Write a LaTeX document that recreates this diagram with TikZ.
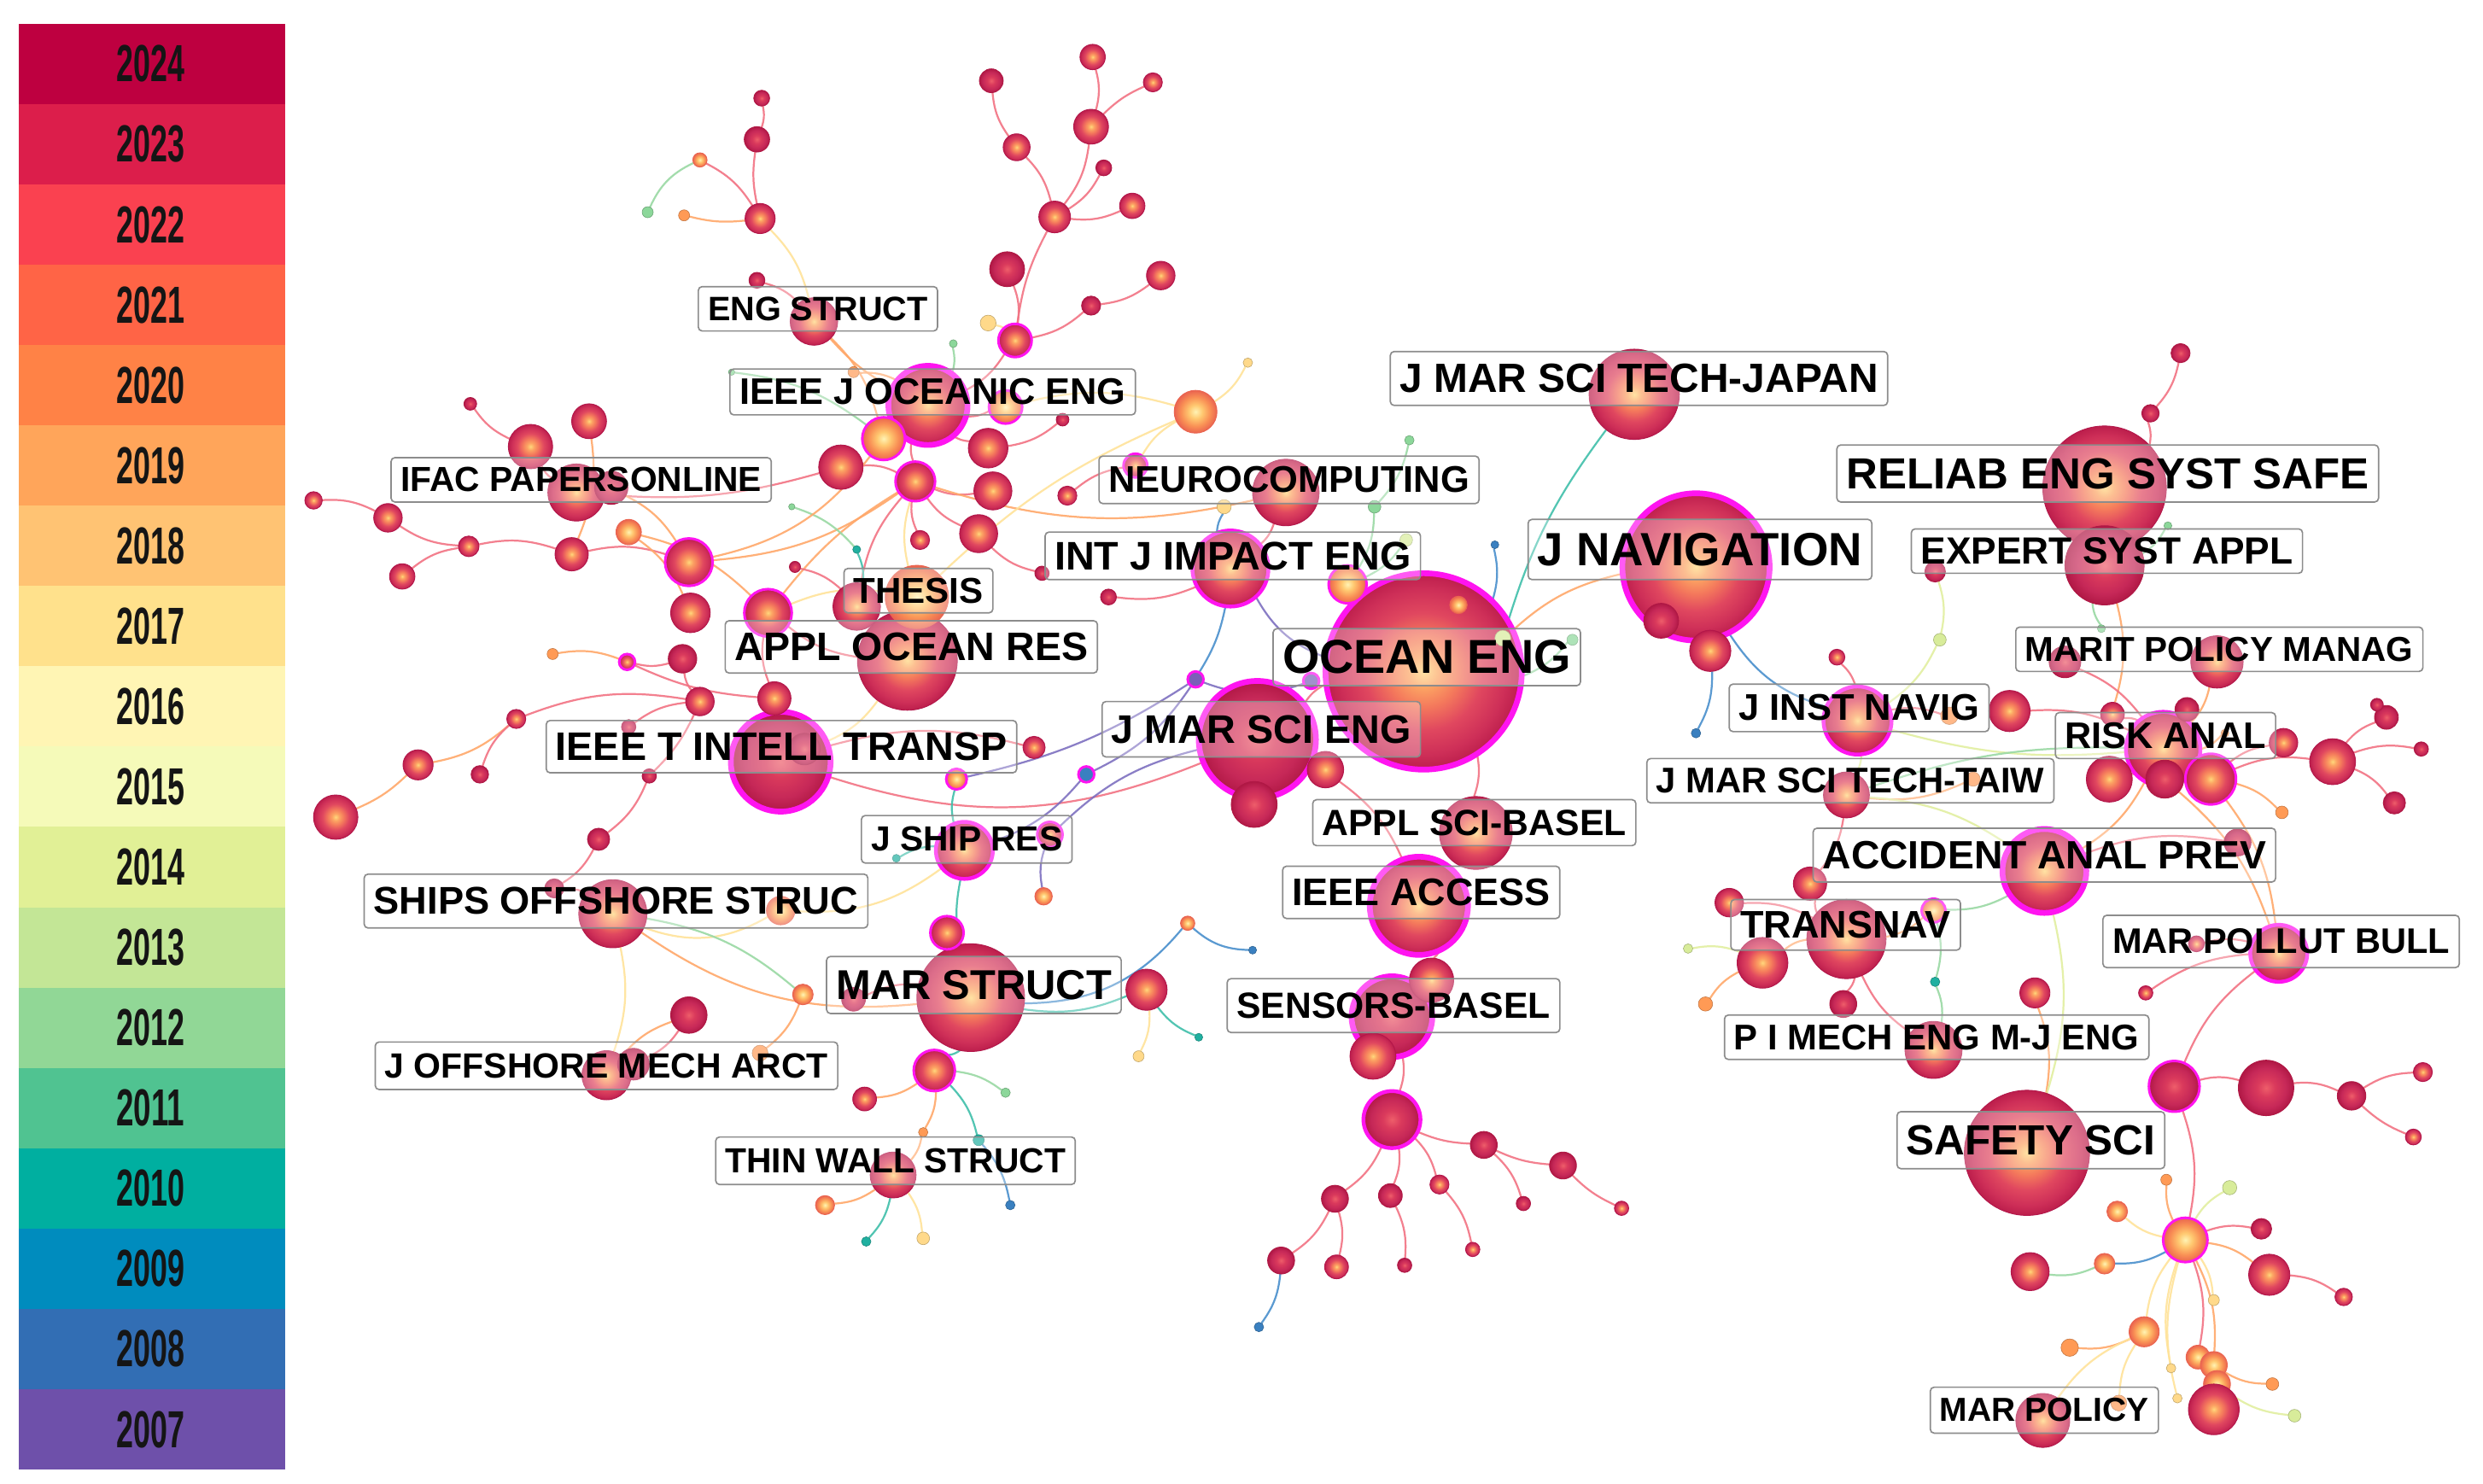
\documentclass[tikz,border=0pt]{standalone}
\usepackage{graphicx}
\usepackage{fontspec}
\setmainfont{Liberation Sans}
\usetikzlibrary{backgrounds}
% node ring colours
\definecolor{cY}{HTML}{FFD77C}\definecolor{cP}{HTML}{FCA463}\definecolor{cO}{HTML}{F4795C}\definecolor{cR}{HTML}{E0475F}
\definecolor{cC}{HTML}{CE2F58}\definecolor{cD}{HTML}{BC1E4C}\definecolor{cBd}{HTML}{B3174A}
\definecolor{dA}{HTML}{EE5E6A}\definecolor{dB}{HTML}{DA3A5C}\definecolor{dC}{HTML}{C62858}\definecolor{dD}{HTML}{B01845}
\definecolor{yA}{HTML}{FFF3B4}\definecolor{yB}{HTML}{FFC870}\definecolor{yC}{HTML}{F99055}\definecolor{yD}{HTML}{EA6450}
\definecolor{cMag}{HTML}{FF14F0}
\definecolor{cGr}{HTML}{8CD79A}\definecolor{cTe}{HTML}{20B0A0}\definecolor{cBl}{HTML}{3A80C0}
\definecolor{cOr}{HTML}{FF9A55}\definecolor{cYe}{HTML}{FFD98A}\definecolor{cYG}{HTML}{D8EC9A}\definecolor{cPu}{HTML}{7A60B8}
% edge colours
\definecolor{kRc}{HTML}{F27383}\definecolor{kOc}{HTML}{FFA86A}\definecolor{kYc}{HTML}{FFE39A}
\definecolor{kGc}{HTML}{9AD9A4}\definecolor{kTc}{HTML}{40BFAA}\definecolor{kBc}{HTML}{4A90CC}
\definecolor{kPc}{HTML}{7E70C0}\definecolor{kLc}{HTML}{E2EFA0}
\definecolor{cBox}{HTML}{8C8C8C}\definecolor{cTxt}{HTML}{151515}
% legend colours
\definecolor{Y2024}{RGB}{190,0,64}\definecolor{Y2023}{RGB}{220,30,75}\definecolor{Y2022}{RGB}{250,65,80}
\definecolor{Y2021}{RGB}{255,100,70}\definecolor{Y2020}{RGB}{255,130,70}\definecolor{Y2019}{RGB}{255,165,90}
\definecolor{Y2018}{RGB}{255,195,115}\definecolor{Y2017}{RGB}{255,225,140}\definecolor{Y2016}{RGB}{255,245,180}
\definecolor{Y2015}{RGB}{245,250,185}\definecolor{Y2014}{RGB}{225,240,150}\definecolor{Y2013}{RGB}{195,230,150}
\definecolor{Y2012}{RGB}{145,215,150}\definecolor{Y2011}{RGB}{80,195,145}\definecolor{Y2010}{RGB}{0,175,160}
\definecolor{Y2009}{RGB}{0,140,190}\definecolor{Y2008}{RGB}{50,110,180}\definecolor{Y2007}{RGB}{110,80,170}
\pgfdeclareradialshading{citeA}{\pgfpoint{0bp}{0bp}}{color(0bp)=(cY); color(4bp)=(cP); color(9bp)=(cO); color(15bp)=(cR); color(21bp)=(cC); color(25bp)=(cD); color(50bp)=(cD)}
\pgfdeclareradialshading{citeB}{\pgfpoint{0bp}{0bp}}{color(0bp)=(dA); color(8bp)=(dB); color(18bp)=(dC); color(25bp)=(dD); color(50bp)=(dD)}
\pgfdeclareradialshading{citeY}{\pgfpoint{0bp}{0bp}}{color(0bp)=(yA); color(8bp)=(yB); color(17bp)=(yC); color(25bp)=(yD); color(50bp)=(yD)}
\tikzset{
  sz/.style={circle,inner sep=0pt,outer sep=0pt,minimum size=#1*0.5mm},
  nA/.style={shade,shading=citeA,draw=cBd,line width=0.25mm},
  nB/.style={shade,shading=citeB,draw=dD,line width=0.25mm},
  nY/.style={shade,shading=citeY,draw=yD,line width=0.25mm},
  cdot/.style={fill=#1,draw=#1!75!black,line width=0.15mm},
  hub/.style={draw=cMag,line width=1.8mm},
  hubm/.style={draw=cMag,line width=1.2mm},
  hubs/.style={draw=cMag,line width=0.8mm},
  kbase/.style={line width=0.6mm,draw opacity=0.9},
  kR/.style={kbase,draw=kRc},kO/.style={kbase,draw=kOc},kY/.style={kbase,draw=kYc},
  kG/.style={kbase,draw=kGc},kT/.style={kbase,draw=kTc},kB/.style={kbase,draw=kBc},
  kP/.style={kbase,draw=kPc},kL/.style={kbase,draw=kLc},
  lab/.style={draw=cBox,line width=0.45mm,rounded corners=1.2mm,fill=white,fill opacity=0.3,
    text opacity=1,inner xsep=3mm,inner ysep=0pt,text=black,font=\bfseries},
}
\newcommand{\mynode}[4][nA]{\node[#1,sz=#4] (#2) at (#3) {};}
\newcommand{\myedge}[4][15]{\draw[#2] (#3) to[bend left=#1] (#4);}
\newcommand{\mylab}[5]{\node[lab,minimum height=#4*0.5mm] (#1) at (#2) {\resizebox{#3mm}{!}{#5}};}
\begin{document}
\begin{tikzpicture}[x=0.5mm,y=-0.5mm]
\useasboundingbox (0,0) rectangle (1568,937);
% ---------- legend
\foreach \yr [count=\i from 0] in {2024,2023,...,2007} {
  \fill[Y\yr] (12,{15+\i*50.72}) rectangle (180,{15+(\i+1)*50.72});
  \node[text=cTxt,inner sep=0pt] (leg\yr) at (95,{15+(\i+0.5)*50.72}) {\resizebox{21.5mm}{11.5mm}{\bfseries\yr}};
}
% ---------- big nodes
\mynode[nA,hub]{oe}{899,424}{124}
\mynode[nA,hub]{jnav}{1071,358}{93}
\mynode[nA]{reli}{1329,308}{78}
\mynode[nA]{safety}{1280,728}{79}
\mynode[nA]{jmstj}{1032,249}{57}
\mynode[nA]{aor}{573,417}{63}
\mynode[nB,hub]{ieit}{493,481}{63}
\mynode[nB,hub]{jmse}{794,467}{74}
\mynode[nA]{mars}{613,630}{68}
\mynode[nA,hub]{ieej}{586,256}{50}
\mynode[nA]{asci}{932,526}{46}
\mynode[nA,hub]{ieac}{896,572}{62}
\mynode[nB,hub]{sens}{879,642}{51}
\mynode[nA,hub]{acc}{1291,550}{53}
\mynode[nB]{expert}{1329,357}{50}
\mynode[nA,hubm]{risk}{1366,473}{47}
\mynode[nA,hubm]{jinst}{1173,455}{43}
\mynode[nA]{transnav}{1166,593}{50}
\mynode[nA,hubm]{impact}{777,359}{48}
\mynode[nA]{neuro}{812,311}{42}
\mynode[nA]{ships}{387,577}{43}
\mynode[nA,hubm]{mpb}{1439,602}{36}
\mynode[nA]{pime}{1221,663}{36}
\mynode[nA]{ifac}{364,311}{36}
\mynode[nY]{thesis}{579,377}{40}
\mynode[nA,hubm]{jship}{609,537}{36}
\mynode[nA]{joff}{383,679}{31}
\mynode[nA]{thin}{564,742}{29}
\mynode[nA]{engs}{514,203}{30}
\mynode[nA]{mpol}{1290,897}{34}
\mynode[nA]{taiw}{1166,502}{29}
% ---------- top-left cluster
\mynode[nB]{a1}{481,62}{10}
\mynode[nB]{a2}{478,88}{16}
\mynode[nA]{a3}{480,138}{19}
\mynode[nY]{a4}{442,101}{9}
\mynode[cdot=cGr]{a5}{409,134}{7}
\mynode[cdot=cOr]{a6}{432,136}{7}
\mynode[nB]{a7}{478,177}{10}
\mynode[nB]{a8}{626,51}{15}
\mynode[nA]{a9}{642,93}{17}
\mynode[nA]{a10}{666,137}{20}
\mynode[nB]{a11}{636,170}{22}
\mynode[cdot=cYe]{a12}{624,204}{10}
\mynode[nA,hubs]{a13}{641,215}{21}
\mynode[cdot=cGr]{a14}{602,217}{5}
\mynode[cdot=cOr]{a15}{539,235}{7}
\mynode[cdot=cGr]{a16}{462,235}{4}
\mynode[nY,hubs]{a17}{635,257}{21}
\mynode[nY,hubs]{a18}{558,277}{27}
\mynode[nA]{a19}{624,283}{25}
\mynode[nA]{a20}{531,295}{28}
\mynode[nA,hubs]{a21}{578,304}{25}
\mynode[nA]{a22}{627,310}{24}
\mynode[nA]{a23}{618,337}{24}
\mynode[nA]{a24}{581,341}{12}
\mynode[nB]{a25}{658,362}{9}
\mynode[nB]{a26}{502,358}{7}
\mynode[cdot=cTe]{a27}{541,347}{5}
\mynode[cdot=cGr]{a28}{500,320}{4}
\mynode[nA]{a29}{541,383}{30}
\mynode[nA,hubs]{a30}{485,387}{30}
\mynode[nA,hubs]{a31}{435,355}{30}
\mynode[nA]{a32}{436,387}{25}
\mynode[nB]{a33}{431,416}{18}
\mynode[nA,hubs]{a34}{396,418}{10}
\mynode[cdot=cOr]{a35}{349,413}{7}
\mynode[nA]{a36}{489,441}{21}
\mynode[nA]{a37}{442,443}{18}
\mynode[nB]{a38}{397,459}{9}
\mynode[nA]{a39}{326,454}{12}
\mynode[nA]{a40}{372,266}{22}
\mynode[nA]{a41}{335,282}{28}
\mynode[nB]{a42}{297,255}{8}
\mynode[nB]{a43}{386,308}{21}
\mynode[nY]{a44}{397,336}{16}
\mynode[nA]{a45}{361,350}{21}
\mynode[nA]{a46}{296,345}{13}
\mynode[nA]{a47}{245,327}{18}
\mynode[nA]{a48}{254,364}{16}
\mynode[nA]{a49}{198,316}{11}
% ---------- top-middle
\mynode[nA]{b1}{690,36}{16}
\mynode[nA]{b2}{728,52}{12}
\mynode[nA]{b3}{689,80}{22}
\mynode[nB]{b4}{697,106}{10}
\mynode[nA]{b5}{715,130}{16}
\mynode[nA]{b6}{733,174}{18}
\mynode[nB]{b7}{689,193}{12}
\mynode[cdot=cYe]{b8}{788,229}{6}
\mynode[nY]{b9}{755,260}{27}
\mynode[nB]{b10}{671,265}{8}
\mynode[nA,hubs]{b11}{717,294}{15}
\mynode[nA]{b12}{674,313}{12}
\mynode[cdot=cYe]{b13}{773,320}{9}
\mynode[cdot=cGr]{b14}{890,278}{6}
\mynode[cdot=cGr]{b15}{868,320}{8}
\mynode[cdot=cYG]{b16}{888,341}{8}
\mynode[nY,hubs]{b17}{851,369}{24}
\mynode[nB]{b18}{700,377}{10}
\mynode[cdot=cBl]{b19}{944,344}{5}
\mynode[nY]{b20}{921,382}{11}
\mynode[cdot=cYG]{b21}{949,403}{10}
\mynode[cdot=cGr]{b22}{993,404}{7}
\mynode[nB]{b23}{1049,392}{22}
\mynode[nA]{b24}{1080,411}{26}
\mynode[cdot=cBl]{b25}{1071,463}{6}
\mynode[cdot=cPu,hubs]{b26}{755,429}{10}
\mynode[cdot=cPu,hubs]{b27}{828,430}{10}
\mynode[nB]{b28}{792,508}{29}
\mynode[nA]{b29}{837,486}{23}
\mynode[cdot=cBl,hubs]{b30}{686,489}{10}
% ---------- bottom-middle
\mynode[nA]{c1}{904,619}{28}
\mynode[nA]{c2}{867,667}{29}
\mynode[nB,hubm]{c3}{879,707}{36}
\mynode[nB]{c4}{937,723}{17}
\mynode[nB]{c5}{987,736}{17}
\mynode[nB]{c6}{962,760}{9}
\mynode[nA]{c7}{1024,763}{9}
\mynode[nB]{c8}{843,757}{17}
\mynode[nB]{c9}{878,755}{15}
\mynode[nA]{c10}{909,748}{12}
\mynode[nB]{c11}{809,796}{17}
\mynode[nA]{c12}{844,800}{15}
\mynode[nB]{c13}{887,799}{9}
\mynode[nA]{c14}{930,789}{9}
\mynode[cdot=cBl]{c15}{795,838}{6}
\mynode[nY]{c16}{750,583}{9}
\mynode[cdot=cBl]{c17}{791,600}{5}
\mynode[nA]{c18}{724,625}{26}
\mynode[cdot=cTe]{c19}{757,655}{5}
\mynode[cdot=cYe]{c20}{719,667}{7}
% ---------- left-bottom
\mynode[nB]{d1}{508,473}{20}
\mynode[nA]{d2}{264,483}{19}
\mynode[nB]{d3}{303,489}{11}
\mynode[nA]{d4}{212,516}{28}
\mynode[nB]{d5}{410,490}{9}
\mynode[nB]{d6}{378,530}{14}
\mynode[nB]{d7}{350,561}{12}
\mynode[nY]{d8}{493,575}{18}
\mynode[nA]{d9}{653,472}{14}
\mynode[nY,hubs]{d10}{604,492}{13}
\mynode[nA,hubs]{d11}{663,527}{16}
\mynode[cdot=cTe]{d12}{566,542}{5}
\mynode[nY]{d13}{659,566}{11}
\mynode[nA,hubs]{d14}{598,589}{21}
\mynode[nB]{d15}{539,631}{15}
\mynode[nY]{d16}{507,628}{13}
\mynode[nB]{d17}{435,641}{23}
\mynode[nB]{d18}{400,672}{20}
\mynode[cdot=cOr]{d19}{480,665}{10}
\mynode[nA,hubs]{d20}{590,676}{26}
\mynode[nA]{d21}{546,694}{15}
\mynode[cdot=cGr]{d22}{635,690}{6}
\mynode[cdot=cOr]{d23}{583,715}{6}
\mynode[cdot=cTe]{d24}{618,720}{7}
\mynode[nY]{d25}{521,761}{12}
\mynode[cdot=cBl]{d26}{638,761}{6}
\mynode[cdot=cTe]{d27}{547,784}{6}
\mynode[cdot=cYe]{d28}{583,782}{8}
% ---------- right side
\mynode[nB]{e1}{1377,223}{12}
\mynode[nB]{e2}{1358,261}{11}
\mynode[nB]{e3}{1222,361}{13}
\mynode[cdot=cGr]{e4}{1369,332}{5}
\mynode[cdot=cYG]{e5}{1225,404}{8}
\mynode[cdot=cGr]{e6}{1327,397}{5}
\mynode[nB]{e7}{1304,418}{20}
\mynode[nA]{e8}{1400,418}{33}
\mynode[nA]{e9}{1160,415}{10}
\mynode[cdot=cOr]{e10}{1231,452}{11}
\mynode[nA]{e11}{1269,449}{26}
\mynode[nA]{e12}{1334,451}{15}
\mynode[nB]{e13}{1381,448}{15}
\mynode[nB]{e14}{1367,492}{24}
\mynode[nA]{e15}{1332,492}{29}
\mynode[nA,hubs]{e16}{1396,492}{32}
\mynode[nA]{e17}{1442,469}{18}
\mynode[nA]{e18}{1473,481}{29}
\mynode[nB]{e19}{1507,453}{15}
\mynode[nB]{e20}{1501,445}{8}
\mynode[nB]{e21}{1529,473}{9}
\mynode[nB]{e22}{1512,507}{14}
\mynode[cdot=cOr]{e23}{1441,513}{8}
\mynode[cdot=cOr]{e24}{1405,463}{5}
\mynode[cdot=cOr]{e25}{1246,492}{9}
\mynode[nB]{e26}{1413,532}{17}
\mynode[nA]{e27}{1143,558}{21}
\mynode[nY,hubs]{e28}{1221,575}{15}
\mynode[cdot=cTe]{e29}{1222,620}{6}
\mynode[nB]{e30}{1164,634}{17}
\mynode[nA]{e31}{1285,627}{19}
\mynode[nA]{e32}{1355,627}{9}
\mynode[nA]{e33}{1387,596}{10}
\mynode[nB,hubs]{e34}{1373,686}{32}
\mynode[nB]{e35}{1431,687}{35}
\mynode[nB]{e36}{1485,692}{18}
\mynode[nA]{e37}{1530,677}{12}
\mynode[nA]{e38}{1524,718}{10}
\mynode[nY,hubs]{e39}{1380,783}{28}
\mynode[cdot=cOr]{e40}{1368,745}{7}
\mynode[cdot=cYG]{e41}{1408,750}{9}
\mynode[nY]{e42}{1337,765}{13}
\mynode[nB]{e43}{1428,776}{13}
\mynode[nY]{e44}{1329,798}{13}
\mynode[nA]{e45}{1282,803}{24}
\mynode[nA]{e46}{1433,805}{26}
\mynode[nA]{e47}{1480,819}{11}
\mynode[cdot=cYe]{e48}{1398,821}{7}
\mynode[nY]{e49}{1354,841}{19}
\mynode[cdot=cOr]{e50}{1307,851}{11}
\mynode[nY]{e51}{1388,857}{15}
\mynode[nY]{e52}{1398,862}{17}
\mynode[nY]{e53}{1400,874}{17}
\mynode[nA]{e54}{1398,890}{32}
\mynode[cdot=cYe]{e55}{1371,864}{6}
\mynode[cdot=cYe]{e56}{1375,883}{6}
\mynode[cdot=cOr]{e57}{1435,874}{8}
\mynode[cdot=cYG]{e58}{1449,894}{8}
\mynode[cdot=cOr]{e59}{1338,886}{10}
\mynode[nA]{f1}{1092,570}{18}
\mynode[nA]{f2}{1113,608}{32}
\mynode[cdot=cOr]{f3}{1077,634}{9}
\mynode[cdot=cYG]{f4}{1066,599}{6}
% ---------- white page and edges (behind)
\begin{scope}[on background layer]
\fill[white] (0,0) rectangle (1568,937);
\myedge{kR}{a1}{a2}\myedge[-10]{kR}{a2}{a3}\myedge{kR}{a4}{a3}\myedge[20]{kG}{a5}{a4}
\myedge[-10]{kO}{a6}{a3}\myedge{kY}{a3}{engs}\myedge{kR}{a7}{engs}\myedge{kO}{engs}{a18}
\myedge[-10]{kO}{engs}{ieej}\myedge[-15]{kR}{a8}{a9}\myedge{kR}{a9}{a10}
\myedge{kR}{b1}{b3}\myedge[-10]{kR}{b2}{b3}\myedge{kR}{b3}{a10}\myedge{kR}{b4}{a10}
\myedge{kR}{b5}{a10}\myedge{kR}{b6}{b7}\myedge{kR}{b7}{a13}\myedge[-10]{kR}{a10}{a13}
\myedge{kR}{a11}{a13}\myedge{kR}{a13}{ieej}\myedge{kY}{a12}{a13}\myedge{kG}{a14}{ieej}
\myedge{kG}{a16}{a18}\myedge{kO}{a15}{ieej}
\myedge{kR}{a17}{ieej}\myedge{kO}{a18}{ieej}\myedge{kR}{a19}{ieej}\myedge{kR}{a20}{a21}
\myedge{kR}{a21}{ieej}\myedge{kR}{a22}{a21}\myedge{kR}{a23}{a21}\myedge{kR}{a24}{a21}
\myedge{kO}{a21}{a31}\myedge[-10]{kO}{a21}{a30}\myedge{kR}{a29}{a21}\myedge{kY}{thesis}{a21}
\myedge{kR}{a25}{a23}
\myedge{kG}{a28}{a27}\myedge{kT}{a27}{a29}\myedge{kR}{a26}{a29}
\myedge{kR}{ifac}{a41}\myedge{kR}{a41}{a42}\myedge{kO}{a40}{a45}\myedge[-10]{kR}{ifac}{a20}
\myedge{kR}{a49}{a47}\myedge[-15]{kR}{a47}{a46}\myedge{kR}{a46}{a45}\myedge{kR}{a48}{a46}
\myedge{kR}{a45}{a31}\myedge{kO}{a43}{a31}\myedge{kO}{a44}{a30}\myedge{kO}{a44}{a32}
\myedge{kR}{a33}{a34}\myedge{kO}{a35}{a34}\myedge[-10]{kR}{a34}{a36}\myedge{kR}{a37}{a33}
\myedge{kR}{a39}{a37}\myedge{kR}{a38}{a37}\myedge{kR}{a36}{a30}\myedge{kY}{a30}{thesis}
\myedge[-20]{kO}{a31}{a18}\myedge{kR}{aor}{a30}\myedge{kY}{aor}{ieit}\myedge{kR}{a36}{ieit}
\myedge[-15]{kO}{d2}{a39}\myedge[-10]{kO}{d4}{d2}\myedge{kR}{d3}{a39}
\myedge{kR}{d5}{d6}\myedge{kR}{d6}{d7}\myedge{kR}{d7}{ships}\myedge[-10]{kR}{d5}{a37}
\myedge{kR}{ieit}{d1}\myedge[20]{kR}{jmse}{ieit}\myedge{kR}{ieit}{d9}
\myedge[-25]{kY}{ships}{d8}\myedge[-20]{kO}{ships}{mars}\myedge{kY}{ships}{joff}
\myedge{kG}{ships}{d16}\myedge{kO}{d16}{d19}\myedge{kO}{joff}{d17}\myedge{kR}{d17}{d18}
\myedge{kT}{jship}{d10}\myedge[-10]{kT}{jship}{mars}\myedge{kT}{d12}{jship}
\myedge[-20]{kY}{d8}{jship}\myedge{kR}{d14}{mars}\myedge{kR}{d15}{mars}
\myedge[-15]{kP}{jship}{b30}\myedge[-15]{kP}{b30}{b26}\myedge[-20]{kP}{b26}{b27}
\myedge[-10]{kB}{b26}{impact}\myedge[-10]{kP}{d10}{b26}\myedge{kP}{d11}{jmse}\myedge{kP}{d13}{d11}
\myedge[-25]{kB}{mars}{c16}\myedge[-20]{kB}{c16}{c17}
\myedge{kT}{mars}{d20}\myedge{kO}{d20}{d21}\myedge{kG}{d20}{d22}\myedge{kT}{d20}{d24}
\myedge{kO}{d20}{d23}\myedge{kO}{d23}{thin}\myedge{kB}{d24}{d26}\myedge{kO}{thin}{d25}
\myedge{kT}{thin}{d27}\myedge{kY}{thin}{d28}
\myedge[-15]{kT}{mars}{c18}\myedge[-15]{kT}{c18}{c19}\myedge{kY}{c18}{c20}
\myedge{kR}{b29}{jmse}\myedge{kR}{b28}{jmse}\myedge{kR}{jmse}{oe}
\myedge[-20]{kP}{impact}{oe}\myedge{kB}{impact}{b13}\myedge{kR}{impact}{b18}
\myedge[-15]{kO}{a21}{neuro}\myedge[-10]{kY}{b9}{thesis}\myedge{kY}{b8}{b9}
\myedge{kY}{a17}{b9}\myedge{kR}{b12}{b11}\myedge{kY}{b11}{b9}\myedge{kR}{neuro}{impact}
\myedge{kR}{b10}{a19}
\myedge{kG}{b14}{b15}\myedge{kG}{b15}{b17}\myedge{kG}{b16}{b17}\myedge{kY}{b17}{oe}
\myedge{kB}{b19}{oe}\myedge{kO}{b20}{oe}\myedge{kG}{b21}{oe}\myedge{kG}{b22}{oe}
\myedge[-10]{kT}{jmstj}{b21}\myedge{kO}{b21}{jnav}
\myedge{kR}{jnav}{b23}\myedge{kR}{jnav}{b24}\myedge{kB}{b24}{b25}\myedge[-20]{kB}{jnav}{jinst}
\myedge{kR}{b29}{ieac}\myedge{kR}{oe}{asci}
\myedge{kR}{ieac}{c1}\myedge{kR}{c1}{sens}\myedge{kR}{sens}{c2}\myedge{kR}{sens}{c3}
\myedge[-10]{kR}{c3}{c4}\myedge[-10]{kR}{c4}{c5}\myedge[-10]{kR}{c5}{c7}\myedge{kR}{c4}{c6}
\myedge{kR}{c3}{c8}\myedge{kR}{c3}{c9}\myedge{kR}{c3}{c10}\myedge{kR}{c8}{c11}
\myedge{kR}{c8}{c12}\myedge[15]{kB}{c11}{c15}\myedge{kR}{c9}{c13}\myedge{kR}{c10}{c14}
\myedge{kR}{e1}{e2}\myedge{kR}{e2}{reli}\myedge{kR}{reli}{expert}\myedge{kG}{e4}{expert}
\myedge{kL}{e3}{e5}\myedge{kL}{e5}{jinst}\myedge{kG}{e6}{expert}\myedge{kO}{expert}{e12}
\myedge{kR}{e7}{risk}\myedge{kO}{e8}{risk}\myedge{kR}{jinst}{e10}\myedge[-10]{kL}{jinst}{risk}
\myedge{kR}{e11}{risk}\myedge{kR}{e12}{risk}\myedge{kR}{e13}{risk}\myedge{kR}{risk}{e14}
\myedge{kR}{risk}{e15}\myedge{kR}{risk}{e16}\myedge{kR}{e16}{e17}\myedge{kR}{e16}{e18}
\myedge{kR}{e18}{e19}\myedge{kR}{e19}{e20}\myedge{kR}{e18}{e21}\myedge{kR}{e18}{e22}
\myedge{kO}{e16}{e23}\myedge{kO}{e24}{risk}\myedge[10]{kG}{taiw}{risk}\myedge{kR}{taiw}{e27}
\myedge{kO}{e25}{taiw}\myedge[-15]{kO}{acc}{risk}\myedge{kG}{acc}{e28}\myedge{kO}{e14}{mpb}
\myedge{kO}{e16}{mpb}\myedge{kR}{acc}{e26}\myedge{kR}{transnav}{e27}\myedge{kR}{transnav}{e30}
\myedge{kG}{e28}{e29}\myedge{kG}{e29}{pime}\myedge{kO}{e31}{safety}\myedge{kR}{e32}{mpb}
\myedge{kR}{e33}{mpb}\myedge[-15]{kR}{mpb}{e34}\myedge{kR}{e34}{e35}\myedge{kR}{e35}{e36}
\myedge{kR}{e36}{e37}\myedge[-10]{kR}{e36}{e38}\myedge{kR}{e34}{e39}\myedge{kO}{e39}{e40}
\myedge{kL}{e39}{e41}\myedge{kY}{e39}{e42}\myedge{kR}{e39}{e43}\myedge{kB}{e39}{e44}
\myedge{kG}{e44}{e45}\myedge{kO}{e39}{e46}\myedge{kR}{e46}{e47}\myedge{kY}{e39}{e48}
\myedge{kR}{e39}{e51}\myedge{kO}{e39}{e52}\myedge{kO}{e49}{e50}\myedge{kY}{e49}{e39}
\myedge{kR}{e54}{e52}\myedge{kO}{e57}{e52}\myedge{kL}{e58}{e53}\myedge{kY}{e59}{e49}
\myedge{kY}{mpol}{e49}\myedge{kY}{e55}{e39}\myedge{kY}{e56}{e39}
\myedge[-15]{kL}{safety}{acc}\myedge{kO}{f2}{transnav}\myedge{kO}{f3}{f2}\myedge{kL}{f4}{f2}
\myedge{kR}{f1}{transnav}\myedge{kR}{e9}{jinst}\myedge{kL}{jinst}{taiw}\myedge{kL}{taiw}{acc}
\myedge{kR}{pime}{transnav}\myedge{kO}{e28}{transnav}
\end{scope}
% ---------- labels
\mylab{lEngStruct}{516.5,195}{69.5}{28}{ENG STRUCT}
\mylab{lIeeeJ}{589,247.5}{122}{29}{IEEE J OCEANIC ENG}
\mylab{lIfac}{367,303}{114}{28}{IFAC PAPERSONLINE}
\mylab{lNeuro}{814,303}{114}{30}{NEUROCOMPUTING}
\mylab{lJmstj}{1035,239}{151}{34}{J MAR SCI TECH-JAPAN}
\mylab{lReli}{1331,299}{165}{36}{RELIAB ENG SYST SAFE}
\mylab{lJnav}{1073.5,347}{102.5}{38}{J NAVIGATION}
\mylab{lExpert}{1330.5,348}{117.5}{28}{EXPERT SYST APPL}
\mylab{lImpact}{778.5,351}{112.5}{30}{INT J IMPACT ENG}
\mylab{lThesis}{580,373}{41}{28}{THESIS}
\mylab{lAor}{575.5,408.5}{111.5}{33}{APPL OCEAN RES}
\mylab{lOe}{901,415}{91}{36}{OCEAN ENG}
\mylab{lMarit}{1401.5,410}{122.5}{28}{MARIT POLICY MANAG}
\mylab{lJinst}{1174,447}{76}{30}{J INST NAVIG}
\mylab{lRisk}{1367.5,464.5}{63.5}{29}{RISK ANAL}
\mylab{lIeit}{493.5,471.5}{142.5}{33}{IEEE T INTELL TRANSP}
\mylab{lJmse}{796.5,460.5}{94.5}{35}{J MAR SCI ENG}
\mylab{lTaiw}{1168.5,493}{122.5}{28}{J MAR SCI TECH-TAIW}
\mylab{lAsci}{931,519.5}{96}{29}{APPL SCI-BASEL}
\mylab{lJship}{610.5,530}{60.5}{30}{J SHIP RES}
\mylab{lAcc}{1291,540}{140}{34}{ACCIDENT ANAL PREV}
\mylab{lIeac}{897.5,563.5}{81.5}{33}{IEEE ACCESS}
\mylab{lShips}{389,569}{153}{34}{SHIPS OFFSHORE STRUC}
\mylab{lTransnav}{1165.5,584}{66.5}{32}{TRANSNAV}
\mylab{lMpb}{1440.5,594.5}{106.5}{33}{MAR POLLUT BULL}
\mylab{lMars}{615,622}{87}{36}{MAR STRUCT}
\mylab{lSens}{880,635}{99}{34}{SENSORS-BASEL}
\mylab{lPime}{1223,655}{128}{28}{P I MECH ENG M-J ENG}
\mylab{lJoff}{383,673}{140}{30}{J OFFSHORE MECH ARCT}
\mylab{lSafety}{1282.5,720}{78.5}{36}{SAFETY SCI}
\mylab{lThin}{565.5,733}{107.5}{30}{THIN WALL STRUCT}
\mylab{lMpol}{1291,890.5}{66}{29}{MAR POLICY}
\end{tikzpicture}
\end{document}
